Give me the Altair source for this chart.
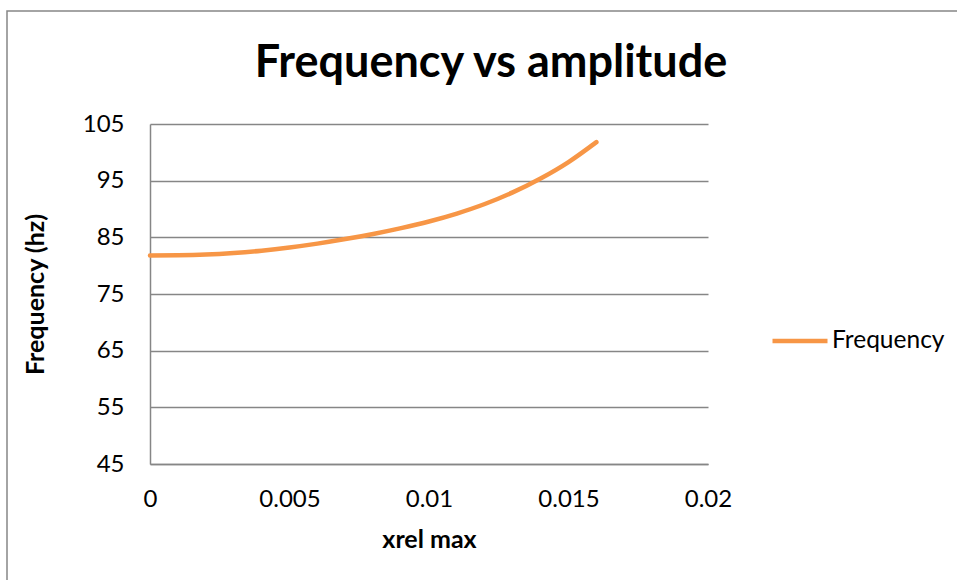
import altair as alt
import pandas as pd

xrel = [0, 0.001, 0.002, 0.003, 0.004, 0.005, 0.006, 0.007, 0.008,
        0.009, 0.010, 0.011, 0.012, 0.013, 0.014, 0.015, 0.016]
freq = [81.8, 81.83, 81.95, 82.23, 82.65, 83.21, 83.89, 84.69, 85.60,
        86.63, 87.80, 89.20, 90.88, 92.93, 95.38, 98.28, 101.8]
series = "Frequency"
title_text = "Frequency vs amplitude"
y_ticks = [45, 55, 65, 75, 85, 95, 105]
x_ticks = [0, 0.005, 0.01, 0.015, 0.02]

df = pd.DataFrame({"x": xrel, "y": freq, "s": [series] * len(xrel)})

FONT = "Lato"
GRAY = "#868686"
ORANGE = "#F79646"

frame = alt.Chart(pd.DataFrame({"a": [0]})).mark_rect(
    fill=None, stroke=GRAY, strokeWidth=1.5, clip=False
).encode(
    x=alt.value(-143), x2=alt.value(900), y=alt.value(-113), y2=alt.value(600)
)

title = alt.Chart(pd.DataFrame({"t": [title_text]})).mark_text(
    font=FONT, fontSize=45, fontWeight="bold", color="black",
    align="center", baseline="alphabetic"
).encode(text="t:N", x=alt.value(341), y=alt.value(-47))

line = alt.Chart(df).mark_line(strokeWidth=4.5, interpolate="monotone", strokeCap="round").encode(
    x=alt.X("x:Q", scale=alt.Scale(domain=[0, 0.02], nice=False),
            axis=alt.Axis(values=x_ticks, title="xrel max", grid=False,
                          ticks=False, domainColor=GRAY, domainWidth=1.5,
                          labelFontSize=24, labelPadding=23, labelColor="black",
                          titleFontSize=25, titleFontWeight="bold", titlePadding=16,
                          titleColor="black", labelFlush=False,
                          labelExpr="datum.value == 0 ? '0' : format(datum.value, '~g')")),
    y=alt.Y("y:Q", scale=alt.Scale(domain=[45, 105], nice=False, zero=False),
            axis=alt.Axis(values=y_ticks, title="Frequency (hz)", grid=True,
                          gridColor=GRAY, gridWidth=1.5, ticks=False,
                          domainColor=GRAY, domainWidth=1.5,
                          labelFontSize=24, labelPadding=26, labelColor="black",
                          titleFontSize=25, titleFontWeight="bold", titlePadding=34,
                          titleColor="black")),
    color=alt.Color("s:N", scale=alt.Scale(range=[ORANGE]),
                    legend=alt.Legend(title=None, orient="none", legendX=620, legendY=187,
                                      symbolType="stroke", symbolSize=3025,
                                      symbolStrokeWidth=4.5, labelFontSize=24.5,
                                      labelColor="black", labelOffset=2))
)

chart = alt.layer(frame, title, line).properties(
    width=558, height=340,
    padding={"left": 150, "top": 124, "right": 249, "bottom": 116},
    autosize=alt.AutoSizeParams(type="none"),
    background="white"
).configure(font=FONT).configure_view(stroke=None).configure_axis(
    labelFont=FONT, titleFont=FONT
).configure_legend(labelFont=FONT)

chart.save("out.html", embed_options={"renderer": "svg", "actions": False})
